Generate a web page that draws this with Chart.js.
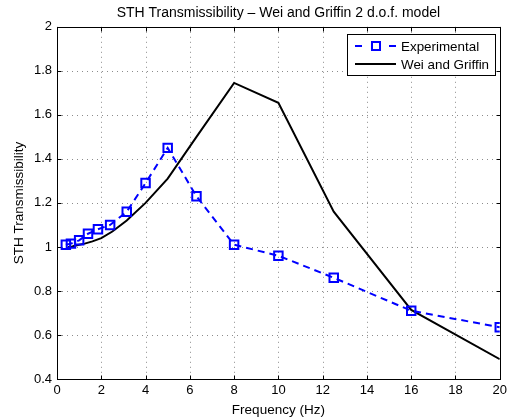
<!DOCTYPE html>
<html>
<head>
<meta charset="utf-8">
<script src="https://cdn.jsdelivr.net/npm/chart.js@4.4.0/dist/chart.umd.min.js"></script>
<style>
html,body{margin:0;padding:0;background:#fff;}
#wrap{width:511px;height:420px;}
</style>
</head>
<body>
<div id="wrap"><canvas id="c" width="511" height="420"></canvas></div>
<script>
const expFreq = [0.4, 0.63, 1.0, 1.4, 1.85, 2.4, 3.15, 4, 5, 6.3, 8, 10, 12.5, 16, 20];
const expValues = [1.01, 1.015, 1.03, 1.06, 1.08, 1.10, 1.16, 1.29, 1.45, 1.23, 1.01, 0.96, 0.86, 0.71, 0.635];
const modelFreq = [0.5, 0.63, 0.8, 1, 1.25, 1.6, 2, 2.5, 3.15, 4, 5, 6.3, 8, 10, 12.5, 16, 20];
const modelValues = [1.0, 1.0, 1.005, 1.01, 1.015, 1.025, 1.04, 1.07, 1.12, 1.2, 1.31, 1.5, 1.745, 1.655, 1.16, 0.714, 0.49];
const xTicks = [0, 2, 4, 6, 8, 10, 12, 14, 16, 18, 20];
const yTicks = [0.4, 0.6, 0.8, 1, 1.2, 1.4, 1.6, 1.8, 2];
const seriesNames = ['Experimental', 'Wei and Griffin'];
const titleText = 'STH Transmissibility \u2013 Wei and Griffin 2 d.o.f. model';
const xTitle = 'Frequency (Hz)';
const yTitle = 'STH Transmissibility';

const FONT = "'Liberation Sans', Arial, Helvetica, sans-serif";
const BLUE = '#0000ff';

const framePlugin = {
  id: 'frame',
  beforeDatasetsDraw(chart) {
    const {ctx, chartArea: a, scales: {x, y}} = chart;
    ctx.save();
    ctx.strokeStyle = '#8c8c8c';
    ctx.lineWidth = 1;
    ctx.setLineDash([1, 4]);
    xTicks.forEach(v => {
      const px = Math.round(x.getPixelForValue(v)) + 0.5;
      ctx.beginPath(); ctx.moveTo(px, a.top); ctx.lineTo(px, a.bottom); ctx.stroke();
    });
    yTicks.forEach(v => {
      const py = Math.round(y.getPixelForValue(v)) + 0.5;
      ctx.beginPath(); ctx.moveTo(a.left, py); ctx.lineTo(a.right, py); ctx.stroke();
    });
    ctx.setLineDash([]);
    ctx.strokeStyle = '#000';
    const L = Math.round(a.left) + 0.5, R = Math.round(a.right) + 0.5;
    const T = Math.round(a.top) + 0.5, B = Math.round(a.bottom) + 0.5;
    ctx.strokeRect(L, T, R - L, B - T);
    const tl = 4;
    xTicks.forEach(v => {
      const px = Math.round(x.getPixelForValue(v)) + 0.5;
      ctx.beginPath();
      ctx.moveTo(px, B); ctx.lineTo(px, B - tl);
      ctx.moveTo(px, T); ctx.lineTo(px, T + tl);
      ctx.stroke();
    });
    yTicks.forEach(v => {
      const py = Math.round(y.getPixelForValue(v)) + 0.5;
      ctx.beginPath();
      ctx.moveTo(L, py); ctx.lineTo(L + tl, py);
      ctx.moveTo(R, py); ctx.lineTo(R - tl, py);
      ctx.stroke();
    });
    ctx.restore();
  },
  afterDraw(chart) {
    const {ctx} = chart;
    ctx.save();
    const bx = 347.5, by = 34.5, bw = 148, bh = 41;
    ctx.fillStyle = '#fff';
    ctx.fillRect(bx, by, bw, bh);
    ctx.strokeStyle = '#000';
    ctx.lineWidth = 1;
    ctx.strokeRect(bx, by, bw, bh);
    const y1 = 46, y2 = 64;
    ctx.strokeStyle = BLUE;
    ctx.lineWidth = 2;
    ctx.beginPath();
    ctx.moveTo(355, y1); ctx.lineTo(362, y1);
    ctx.moveTo(389, y1); ctx.lineTo(396, y1);
    ctx.stroke();
    ctx.strokeRect(372, y1 - 4, 8, 8);
    ctx.strokeStyle = '#000';
    ctx.beginPath(); ctx.moveTo(355, y2); ctx.lineTo(396, y2); ctx.stroke();
    ctx.fillStyle = '#000';
    ctx.font = '13.4px ' + FONT;
    ctx.textBaseline = 'middle';
    ctx.textAlign = 'left';
    ctx.fillText(seriesNames[0], 401, y1 + 1);
    ctx.fillText(seriesNames[1], 401, y2 + 1);
    ctx.restore();
  }
};

new Chart(document.getElementById('c'), {
  type: 'line',
  data: {
    datasets: [
      {
        label: seriesNames[0],
        data: expFreq.map((f, i) => ({x: f, y: expValues[i]})),
        borderColor: BLUE,
        backgroundColor: 'rgba(0,0,0,0)',
        borderWidth: 2,
        borderDash: [7, 5],
        pointStyle: 'rect',
        pointRadius: 6,
        pointBorderWidth: 2,
        pointBorderColor: BLUE,
        pointBackgroundColor: 'rgba(0,0,0,0)',
        tension: 0,
        order: 1
      },
      {
        label: seriesNames[1],
        data: modelFreq.map((f, i) => ({x: f, y: modelValues[i]})),
        borderColor: '#000',
        backgroundColor: '#000',
        borderWidth: 2,
        pointRadius: 0,
        tension: 0,
        order: 2
      }
    ]
  },
  plugins: [framePlugin],
  options: {
    responsive: false,
    animation: false,
    devicePixelRatio: 1,
    layout: {padding: {left: 0, right: 9, top: 0, bottom: 0}},
    plugins: {
      legend: {display: false},
      tooltip: {enabled: false},
      title: {
        display: true,
        text: titleText,
        fullSize: false,
        color: '#000',
        font: {family: FONT, size: 14, weight: 'normal'},
        padding: {top: 5, bottom: 5}
      }
    },
    scales: {
      x: {
        type: 'linear',
        min: 0, max: 20,
        afterBuildTicks: s => { s.ticks = xTicks.map(v => ({value: v})); },
        afterFit: s => { s.height = 41; },
        grid: {display: false, drawTicks: false},
        border: {display: false},
        ticks: {color: '#000', font: {family: FONT, size: 13}, padding: 4, maxRotation: 0,
                callback: v => String(v)},
        title: {display: true, text: xTitle, color: '#000', font: {family: FONT, size: 13.5}, padding: {top: 0, bottom: 2}}
      },
      y: {
        type: 'linear',
        min: 0.4, max: 2,
        afterBuildTicks: s => { s.ticks = yTicks.map(v => ({value: v})); },
        afterFit: s => { s.width = 57; },
        grid: {display: false, drawTicks: false},
        border: {display: false},
        ticks: {color: '#000', font: {family: FONT, size: 13}, padding: 5,
                callback: v => String(Number(v.toFixed(1)))},
        title: {display: true, text: yTitle, color: '#000', font: {family: FONT, size: 13.5}, padding: {top: 11, bottom: 0}}
      }
    }
  }
});
</script>
</body>
</html>
